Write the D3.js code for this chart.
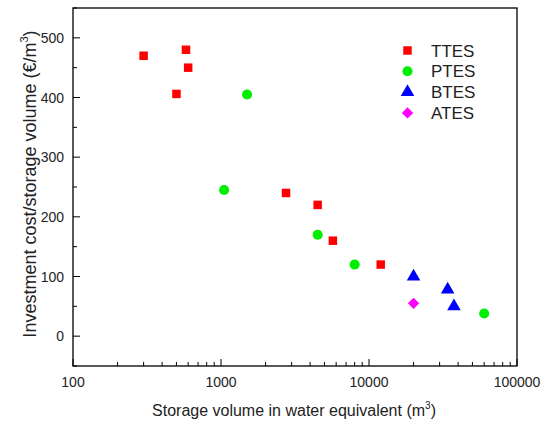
<!DOCTYPE html>
<html>
<head>
<meta charset="utf-8">
<script src="https://cdn.jsdelivr.net/npm/d3@7"></script>
<style>
  body { margin: 0; background: #fff; }
  svg { display: block; font-family: "Liberation Sans", Arial, sans-serif; }
</style>
</head>
<body>
<svg id="chart" width="555" height="422"></svg>
<script>
const seriesNames = ["TTES", "PTES", "BTES", "ATES"];
const seriesColors = ["#ff0000", "#00ee00", "#0000ff", "#ff00ff"];
const ttesVolume = [300, 580, 600, 500, 2750, 4500, 5700, 12000];
const ttesCost = [470, 480, 450, 406, 240, 220, 160, 120];
const ptesVolume = [1500, 1050, 4500, 8000, 60000];
const ptesCost = [405, 245, 170, 120, 38];
const btesVolume = [20000, 34000, 37500];
const btesCost = [100, 78, 50];
const atesVolume = [20000];
const atesCost = [55];
const xTickValues = [100, 1000, 10000, 100000];
const yTickValues = [0, 100, 200, 300, 400, 500];

const svg = d3.select("#chart");
const m = {left: 73, top: 8, right: 517, bottom: 366};
const x = d3.scaleLog().domain([100, 100000]).range([m.left, m.right]);
const y = d3.scaleLinear().domain([-50, 550]).range([m.bottom, m.top]);

// frame
svg.append("rect").attr("x", m.left).attr("y", m.top)
  .attr("width", m.right - m.left).attr("height", m.bottom - m.top)
  .attr("fill", "none").attr("stroke", "#000").attr("stroke-width", 1.3);

// x ticks (inward)
const minorX = [];
for (let d = 100; d < 100000; d *= 10) for (let k = 2; k <= 9; k++) minorX.push(d * k);
svg.append("g").selectAll("line").data(minorX).join("line")
  .attr("x1", d => x(d)).attr("x2", d => x(d))
  .attr("y1", m.bottom).attr("y2", m.bottom - 4)
  .attr("stroke", "#000").attr("stroke-width", 1);
svg.append("g").selectAll("line").data(xTickValues).join("line")
  .attr("x1", d => x(d)).attr("x2", d => x(d))
  .attr("y1", m.bottom).attr("y2", m.bottom - 7)
  .attr("stroke", "#000").attr("stroke-width", 1);
svg.append("g").selectAll("text").data(xTickValues).join("text")
  .attr("x", d => x(d)).attr("y", 387)
  .attr("text-anchor", "middle").attr("font-size", 14).attr("fill", "#222")
  .text(d => d);

// y ticks (inward)
const minorY = d3.range(-50, 551, 100);
svg.append("g").selectAll("line").data(minorY).join("line")
  .attr("x1", m.left).attr("x2", m.left + 4)
  .attr("y1", d => y(d)).attr("y2", d => y(d))
  .attr("stroke", "#000").attr("stroke-width", 1);
svg.append("g").selectAll("line").data(yTickValues).join("line")
  .attr("x1", m.left).attr("x2", m.left + 7)
  .attr("y1", d => y(d)).attr("y2", d => y(d))
  .attr("stroke", "#000").attr("stroke-width", 1);
svg.append("g").selectAll("text").data(yTickValues).join("text")
  .attr("x", 64).attr("y", d => y(d) + 5)
  .attr("text-anchor", "end").attr("font-size", 14).attr("fill", "#222")
  .text(d => d);

// axis titles
const xt = svg.append("text").attr("x", 294).attr("y", 416)
  .attr("text-anchor", "middle").attr("font-size", 16).attr("fill", "#222");
xt.append("tspan").text("Storage volume in water equivalent (m");
xt.append("tspan").attr("font-size", 10).attr("dy", -7).text("3");
xt.append("tspan").attr("dy", 7).text(")");

const yt = svg.append("text").attr("transform", "translate(36,184) rotate(-90)")
  .attr("text-anchor", "middle").attr("font-size", 18).attr("fill", "#222");
yt.append("tspan").text("Investment cost/storage volume (€/m");
yt.append("tspan").attr("font-size", 11).attr("dy", -8).text("3");
yt.append("tspan").attr("dy", 8).text(")");

// markers
const diamond = {
  draw(ctx, size) {
    const r = Math.sqrt(size / 2);
    ctx.moveTo(0, -r); ctx.lineTo(r, 0); ctx.lineTo(0, r); ctx.lineTo(-r, 0); ctx.closePath();
  }
};
const symbols = [d3.symbolSquare, d3.symbolCircle, d3.symbolTriangle, diamond];
const sizes = [72, 80, 80, 64];
const seriesData = [
  [ttesVolume, ttesCost], [ptesVolume, ptesCost],
  [btesVolume, btesCost], [atesVolume, atesCost]
];
seriesData.forEach(([vx, vy], i) => {
  const sym = d3.symbol().type(symbols[i]).size(sizes[i]);
  svg.append("g").selectAll("path").data(vx.map((v, j) => [v, vy[j]])).join("path")
    .attr("d", sym)
    .attr("transform", d => `translate(${x(d[0])},${y(d[1])})`)
    .attr("fill", seriesColors[i]);
});

// legend
const lg = svg.append("g");
seriesNames.forEach((name, i) => {
  const yy = 50.5 + i * 20.8;
  lg.append("path").attr("d", d3.symbol().type(symbols[i]).size(sizes[i])())
    .attr("transform", `translate(407.5,${yy})`).attr("fill", seriesColors[i]);
  lg.append("text").attr("x", 431).attr("y", yy + 6)
    .attr("font-size", 17).attr("fill", "#222").text(name);
});
</script>
</body>
</html>
